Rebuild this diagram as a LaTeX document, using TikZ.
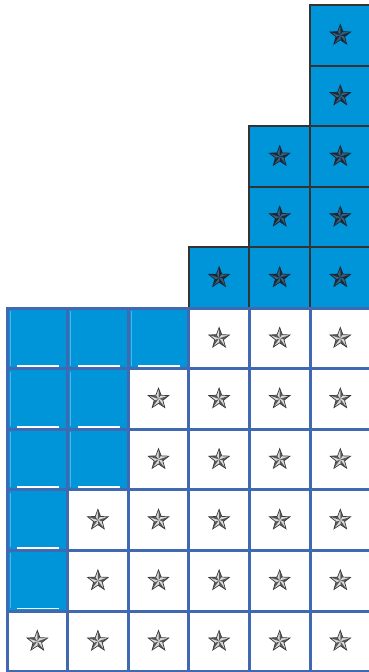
\documentclass[tikz,border=0pt]{standalone}
\usetikzlibrary{calc}
\definecolor{cellblue}{HTML}{0094D8}
\definecolor{gridblue}{HTML}{4169B2}
\definecolor{darkline}{HTML}{333333}
\definecolor{hiblue}{HTML}{4FB3E6}
\definecolor{silverlight}{HTML}{DCDCDC}
\definecolor{silverdark}{HTML}{5A5A5A}
\definecolor{silveredge}{HTML}{3A3A3A}
\definecolor{navylight}{HTML}{3D5F7A}
\definecolor{navydark}{HTML}{1B2836}
\definecolor{navyedge}{HTML}{1B2530}
\begin{document}
\begin{tikzpicture}[x=1pt,y=-1pt,
  cell/.style={rectangle, minimum width=60.6pt, minimum height=60.6pt, inner sep=0pt, outer sep=0pt},
  lowcell/.style={cell, draw=gridblue, line width=3pt, fill=white},
  lowblue/.style={cell, draw=gridblue, line width=3pt, fill=cellblue},
  upcell/.style={cell, draw=darkline, line width=2pt, fill=cellblue},
  pics/starpic/.style n args={3}{code={
    \foreach \k in {0,...,4}{
      \pgfmathsetmacro\a{270+72*\k}
      \fill[#1] (0,0) -- (\a:10.8) -- ({\a-36}:4.5) -- cycle;
      \fill[#2] (0,0) -- (\a:10.8) -- ({\a+36}:4.5) -- cycle;
    }
    \draw[#3, line width=0.7pt, line join=miter]
      (270:10.8) -- (306:4.5) -- (342:10.8) -- (18:4.5) -- (54:10.8) --
      (90:4.5) -- (126:10.8) -- (162:4.5) -- (198:10.8) -- (234:4.5) -- cycle;
  }}
]
\useasboundingbox (0,0) rectangle (369,672);
\fill[white] (0,0) rectangle (369,672);
% upper blue cells
\foreach \c/\r in {4/5,5/3,5/4,5/5,6/1,6/2,6/3,6/4,6/5}{
  \pgfmathsetmacro\x{7+(\c-0.5)*60.6}
  \pgfmathsetmacro\y{5+(\r-0.5)*60.6}
  \node[upcell] (U\r\c) at (\x,\y) {};
  \pic at (U\r\c.center) {starpic={navylight}{navydark}{navyedge}};
}
% lower grid
\foreach \r/\n in {1/3,2/2,3/2,4/1,5/1,6/0}{
  \foreach \c in {1,...,6}{
    \pgfmathsetmacro\x{7+(\c-0.5)*60.6}
    \pgfmathsetmacro\y{308+(\r-0.5)*60.6}
    \ifnum\c>\n
      \node[lowcell] (L\r\c) at (\x,\y) {};
      \pic at (L\r\c.center) {starpic={silverlight}{silverdark}{silveredge}};
    \else
      \node[lowblue] (L\r\c) at (\x,\y) {};
      \draw[hiblue, line width=0.8pt] ($(L\r\c.north west)+(3,3)$) -- ($(L\r\c.south west)+(3,-3)$);
      \fill[white] ($(L\r\c.south west)+(10,-3.4)$) rectangle ++(42,1.8);
    \fi
  }
}
\end{tikzpicture}
\end{document}
